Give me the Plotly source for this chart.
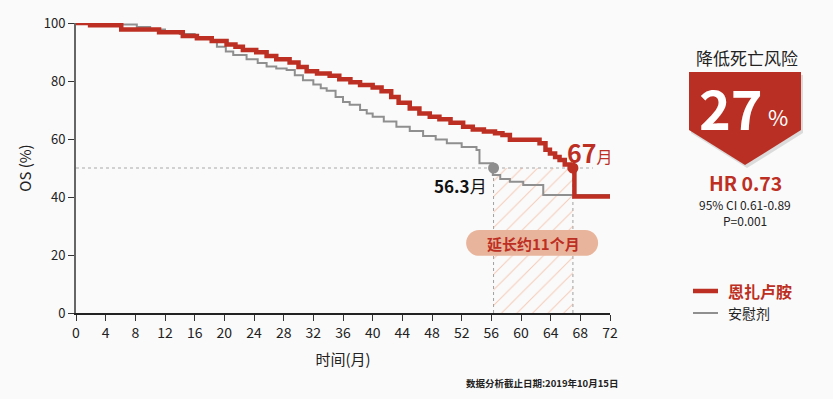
import plotly.graph_objects as go

# ---------------- data ----------------
enza_t = [0, 1.9, 6.1, 11.2, 14.4, 16.3, 18.3, 20.3, 21.5, 22.5, 24.3, 25.7, 27.0, 28.8, 30.0,
          31.1, 32.5, 34.2, 35.5, 37.0, 38.3, 40.0, 41.2, 42.5, 43.5, 45.0, 46.3, 47.7, 49.0,
          50.5, 52.2, 53.5, 55.0, 56.5, 57.5, 58.5, 62.5, 63.3, 63.9, 64.6, 65.2, 65.9, 66.6,
          67.2, 72]
enza_s = [100, 99.2, 97.8, 96.8, 95.5, 94.7, 93.8, 92.6, 91.8, 90.7, 89.9, 88.6, 87.5, 86.4, 84.8,
          83.4, 82.6, 81.8, 80.6, 79.6, 78.6, 77.8, 76.5, 74.5, 72.5, 70.5, 68.8, 67.7, 66.8,
          65.6, 64.2, 63.3, 62.6, 62.0, 61.4, 59.7, 58.5, 56.3, 55.0, 53.8, 52.8, 51.2, 49.9,
          40.2, 40.2]

plac_t = [0, 5.9, 8.2, 10.0, 12.0, 14.0, 16.0, 17.2, 18.3, 19.0, 20.2, 21.2, 23.0, 24.5, 25.7,
          27.0, 28.4, 29.5, 30.6, 32.0, 33.0, 33.8, 35.0, 36.0, 36.9, 38.3, 39.2, 40.0, 41.5,
          43.2, 45.0, 46.8, 48.5, 50.0, 52.0, 54.0, 54.4, 56.2, 57.2, 58.5, 60.3, 63.0, 72]
plac_s = [100, 99.5, 98.6, 97.8, 97.2, 96.2, 95.2, 94.5, 93.6, 91.8, 90.2, 89.0, 87.5, 86.2, 85.0,
          84.3, 83.8, 82.0, 80.3, 78.8, 77.5, 76.6, 74.5, 72.8, 71.8, 70.0, 68.8, 67.7, 66.0,
          64.2, 62.8, 61.0, 59.8, 58.5, 57.2, 56.2, 51.6, 47.6, 46.2, 45.3, 44.1, 40.7, 40.7]

x_ticks = list(range(0, 73, 4))
y_ticks = [0, 20, 40, 60, 80, 100]

median_plac = 56.3
median_enza = 67
median_level = 50

series_names = ["恩扎卢胺", "安慰剂"]
RED = "#BD2F23"
GRAY = "#8F8F8F"
FONT = "Noto Sans CJK SC, Noto Sans, sans-serif"

# plot area in pixels
L, R, T, B = 76, 610, 23, 313
W, H = 833, 399


def px(x):
    return (x - L) / (R - L)


def py(y):
    return (B - y) / (B - T)


fig = go.Figure()

# hatched region between medians
fig.add_trace(go.Scatter(
    x=[median_plac, median_enza, median_enza, median_plac, median_plac],
    y=[0, 0, median_level, median_level, 0],
    fill="toself", mode="lines", line=dict(width=0),
    fillcolor="rgba(0,0,0,0)",
    fillpattern=dict(shape="/", fgcolor="#EE9A74", bgcolor="rgba(0,0,0,0)", size=11, solidity=0.09),
    hoverinfo="skip", showlegend=False))

# placebo curve
fig.add_trace(go.Scatter(x=plac_t, y=plac_s, mode="lines", line=dict(color=GRAY, width=2, shape="hv"),
                         name=series_names[1], showlegend=False))
# enzalutamide curve
fig.add_trace(go.Scatter(x=enza_t, y=enza_s, mode="lines", line=dict(color=RED, width=4.5, shape="hv"),
                         name=series_names[0], showlegend=False))

# median markers
fig.add_trace(go.Scatter(x=[median_plac], y=[median_level], mode="markers",
                         marker=dict(color="#8E8E8E", size=11), showlegend=False))
fig.add_trace(go.Scatter(x=[median_enza], y=[median_level], mode="markers",
                         marker=dict(color=RED, size=11), showlegend=False))

shapes = []
# dotted reference lines
shapes.append(dict(type="line", xref="x", yref="y", x0=0, x1=69.7, y0=median_level, y1=median_level,
                   line=dict(color="#A8A8A8", width=1, dash="dot"), layer="below"))
for m in (median_plac, median_enza):
    shapes.append(dict(type="line", xref="x", yref="y", x0=m, x1=m, y0=0, y1=median_level,
                       line=dict(color="#A0A0A0", width=1, dash="dot"), layer="below"))

# pill
x0p, x1p, y0p, y1p = 52.6, 70.4, 19.7, 28.6
rx = 1.75
ym = (y0p + y1p) / 2
k = 0.55
hh = (y1p - y0p) / 2
pill = (f"M {x0p+rx},{y0p} L {x1p-rx},{y0p} "
        f"C {x1p-rx+rx*k},{y0p} {x1p},{ym-hh*k} {x1p},{ym} "
        f"C {x1p},{ym+hh*k} {x1p-rx+rx*k},{y1p} {x1p-rx},{y1p} "
        f"L {x0p+rx},{y1p} "
        f"C {x0p+rx-rx*k},{y1p} {x0p},{ym+hh*k} {x0p},{ym} "
        f"C {x0p},{ym-hh*k} {x0p+rx-rx*k},{y0p} {x0p+rx},{y0p} Z")
shapes.append(dict(type="path", xref="x", yref="y", path=pill, fillcolor="#E9B49C",
                   line=dict(width=0), layer="above"))

# red badge pentagon (paper coordinates)
pts = [(689, 72), (801, 72), (801, 130), (745, 165), (689, 130)]
shadow = "M " + " L ".join(f"{px(a+2)},{py(b+3)}" for a, b in pts) + " Z"
shapes.append(dict(type="path", xref="paper", yref="paper", path=shadow,
                   fillcolor="rgba(0,0,0,0.12)", line=dict(width=0)))
badge = "M " + " L ".join(f"{px(a)},{py(b)}" for a, b in pts) + " Z"
shapes.append(dict(type="path", xref="paper", yref="paper", path=badge,
                   fillcolor="#B92F24", line=dict(width=0)))

# legend lines
shapes.append(dict(type="line", xref="paper", yref="paper", x0=px(693), x1=px(718), y0=py(291), y1=py(291),
                   line=dict(color=RED, width=4.5)))
shapes.append(dict(type="line", xref="paper", yref="paper", x0=px(693), x1=px(718), y0=py(313), y1=py(313),
                   line=dict(color=GRAY, width=2)))

ann = []


def A(x, y, text, size, color="#222", xanchor="center", yanchor="middle", **kw):
    ann.append(dict(xref="paper", yref="paper", x=px(x), y=py(y), text=text, showarrow=False,
                    font=dict(size=size, color=color, family=FONT), xanchor=xanchor, yanchor=yanchor,
                    borderpad=0, **kw))


A(488, 185, "<b>56.3</b>月", 17, "#111", xanchor="right")
A(566, 152, f"<b>{median_enza}</b><span style='font-size:16px'>月</span>", 25, RED, xanchor="left")
A(533, 243, "<b>延长约11个月</b>", 15, RED)
A(747, 57, "降低死亡风险", 17, "#222")
A(731, 106, "<b>27</b>", 54, "white")
A(778, 116, "%", 22, "white")
A(745, 182.5, "<b>HR 0.73</b>", 19.5, RED)
A(745, 204, "95% CI 0.61-0.89", 12, "#222")
A(745, 220, "P=0.001", 12, "#222")
A(727, 291, f"<b>{series_names[0]}</b>", 16, RED, xanchor="left")
A(727, 313, series_names[1], 14, "#222", xanchor="left")
A(542, 383, "<b>数据分析截止日期:2019年10月15日</b>", 9.5, "#222")

fig.update_layout(
    width=W, height=H,
    margin=dict(l=L, r=W - R, t=T, b=H - B),
    paper_bgcolor="#FAFAFA", plot_bgcolor="rgba(0,0,0,0)",
    font=dict(family=FONT, color="#222"),
    shapes=shapes, annotations=ann,
    xaxis=dict(range=[0, 72], tickvals=x_ticks, ticks="outside", ticklen=6, tickcolor="#333",
               showline=True, linecolor="#222", linewidth=1.5, showgrid=False, zeroline=False,
               tickfont=dict(size=14, color="#222"),
               title=dict(text="时间(月)", font=dict(size=15, color="#222"), standoff=14)),
    yaxis=dict(range=[0, 100], tickvals=y_ticks, ticks="outside", ticklen=6, tickcolor="#333",
               showline=True, linecolor="#666", linewidth=2, showgrid=False, zeroline=False,
               tickfont=dict(size=13, color="#222"),
               title=dict(text="OS (%)", font=dict(size=15, color="#222"), standoff=8)),
)

fig.write_html("out.html", config={"displayModeBar": False},
               post_script="document.body.style.margin='0';document.body.style.padding='0';")
